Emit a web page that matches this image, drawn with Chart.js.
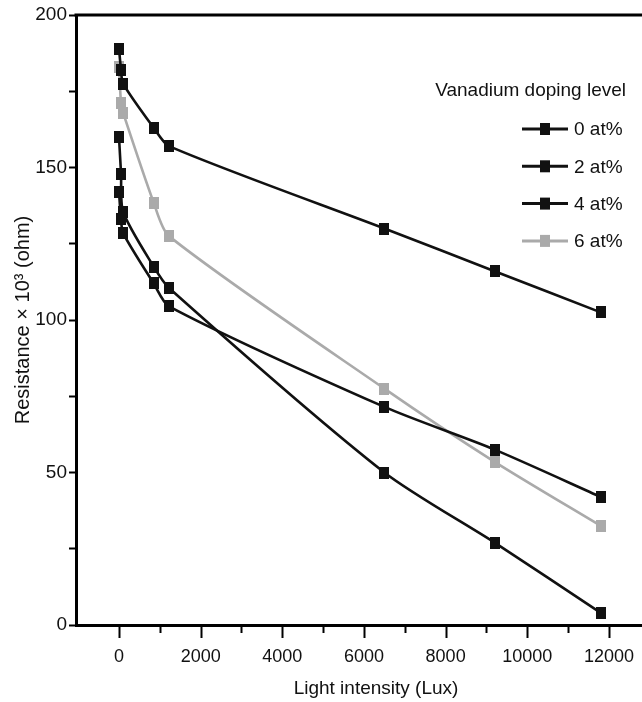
<!DOCTYPE html>
<html>
<head>
<meta charset="utf-8">
<title>Resistance vs light intensity</title>
<script src="https://cdn.jsdelivr.net/npm/chart.js@4.4.0/dist/chart.umd.min.js"></script>
<style>
  html, body { margin: 0; padding: 0; background: #fff; }
  #wrap { width: 642px; height: 702px; }
</style>
</head>
<body>
<div id="wrap"><canvas id="resChart" width="642" height="702"></canvas></div>
<script>
// light intensity (Lux) at each measurement
const lightLux = [0, 50, 100, 850, 1225, 6500, 9200, 11800];
// resistance x 10^3 (ohm) for each vanadium doping level
const res0 = [189, 182, 177.5, 163, 157, 130, 116, 102.5];
const res2 = [142, 133, 128.5, 112, 104.5, 71.5, 57.5, 42];
const res4 = [160, 148, 135.5, 117.5, 110.5, 50, 27, 4];
const res6 = [183, 171, 168, 138.5, 127.5, 77.5, 53.5, 32.5];
const seriesNames = ['0 at%', '2 at%', '4 at%', '6 at%'];
const legendTitle = 'Vanadium doping level';
const xTitle = 'Light intensity (Lux)';
const xTicks = [0, 1000, 2000, 3000, 4000, 5000, 6000, 7000, 8000, 9000, 10000, 11000, 12000];
const yTicks = [0, 25, 50, 75, 100, 125, 150, 175, 200];

const FONT = "'Liberation Sans', Arial, Helvetica, sans-serif";
const BLACK = '#111111';
const GREY = '#aaaaaa';

// small rectangular marker used as point style
function makeMarker(color) {
    const c = document.createElement('canvas');
    c.width = 10;
    c.height = 12;
    const g = c.getContext('2d');
    g.fillStyle = color;
    g.fillRect(0, 0, 10, 12);
    return c;
}

function toPoints(values) {
    return lightLux.map((x, i) => ({ x: x, y: values[i] }));
}

const seriesValues = [res0, res2, res4, res6];
const seriesColors = [BLACK, BLACK, BLACK, GREY];

const datasets = seriesValues.map((vals, i) => ({
    label: seriesNames[i],
    data: toPoints(vals),
    borderColor: seriesColors[i],
    backgroundColor: seriesColors[i],
    borderWidth: 2.6,
    pointStyle: makeMarker(seriesColors[i]),
    pointRadius: 6,
    tension: 0.25,
    fill: false
}));

// top frame line, x tick marks (long for labelled, short for the rest), x title and the legend
const extras = {
    id: 'extras',
    afterDraw(chart) {
        const ctx = chart.ctx;
        const area = chart.chartArea;
        const xs = chart.scales.x;
        ctx.save();
        ctx.strokeStyle = '#000';
        ctx.lineWidth = 3;
        ctx.beginPath();
        ctx.moveTo(area.left - 1.5, area.top);
        ctx.lineTo(area.right, area.top);
        ctx.stroke();

        ctx.lineWidth = 2;
        xs.ticks.forEach(t => {
            const px = Math.round(xs.getPixelForValue(t.value)) + 0.5;
            const len = t.value % 2000 === 0 ? 13 : 8;
            ctx.beginPath();
            ctx.moveTo(px, area.bottom);
            ctx.lineTo(px, area.bottom + len);
            ctx.stroke();
        });

        ctx.fillStyle = '#111';
        ctx.font = '19px ' + FONT;
        ctx.textBaseline = 'middle';
        // x axis title, centred a bit right of the visible axis like the original
        ctx.textAlign = 'center';
        ctx.fillText(xTitle, 376, 689);

        // legend
        ctx.textAlign = 'right';
        ctx.fillText(legendTitle, 626, 91);
        ctx.textAlign = 'left';
        chart.data.datasets.forEach((ds, i) => {
            const y = 129 + i * 37.3;
            ctx.strokeStyle = ds.borderColor;
            ctx.lineWidth = 3;
            ctx.beginPath();
            ctx.moveTo(522, y);
            ctx.lineTo(568, y);
            ctx.stroke();
            ctx.fillStyle = ds.borderColor;
            ctx.fillRect(540, y - 6, 10, 12);
            ctx.fillStyle = '#111';
            ctx.fillText(ds.label, 574, y + 1);
        });
        ctx.restore();
    }
};

const ctx = document.getElementById('resChart').getContext('2d');
new Chart(ctx, {
    type: 'line',
    data: { datasets: datasets },
    options: {
        responsive: false,
        animation: false,
        layout: { autoPadding: false, padding: { top: 15, right: 0, left: 0, bottom: 0 } },
        plugins: {
            legend: { display: false },
            tooltip: { enabled: false }
        },
        scales: {
            x: {
                type: 'linear',
                min: -1053,
                max: 12810,
                afterBuildTicks: scale => { scale.ticks = xTicks.map(v => ({ value: v })); },
                afterFit: scale => {
                    scale.height = 77;
                    scale.paddingLeft = 0;
                    scale.paddingRight = 0;
                },
                grid: { display: false },
                border: { display: true, color: '#000', width: 3 },
                ticks: {
                    color: '#111',
                    font: { family: FONT, size: 18 },
                    padding: 13,
                    maxRotation: 0,
                    autoSkip: false,
                    callback: v => (v % 2000 === 0 ? String(v) : '')
                },
                title: { display: false }
            },
            y: {
                min: 0,
                max: 200,
                afterBuildTicks: scale => { scale.ticks = yTicks.map(v => ({ value: v })); },
                afterFit: scale => { scale.width = 76; },
                grid: {
                    display: true,
                    drawOnChartArea: false,
                    drawTicks: true,
                    tickLength: 7,
                    tickWidth: 2,
                    tickColor: '#000'
                },
                border: { display: true, color: '#000', width: 3 },
                ticks: {
                    color: '#111',
                    font: { family: FONT, size: 19 },
                    padding: 2,
                    autoSkip: false,
                    callback: v => (v % 50 === 0 ? String(v) : '')
                },
                title: {
                    display: true,
                    text: 'Resistance × 10³ (ohm)',
                    color: '#111',
                    font: { family: FONT, size: 20 },
                    padding: { top: 11, bottom: 0 }
                }
            }
        }
    },
    plugins: [extras]
});
</script>
</body>
</html>
